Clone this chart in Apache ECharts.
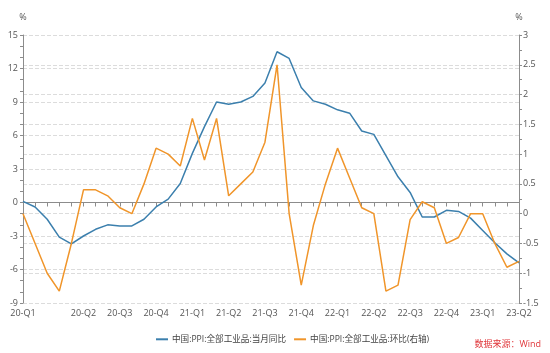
<!DOCTYPE html>
<html>
<head>
<meta charset="utf-8">
<script src="https://cdn.jsdelivr.net/npm/echarts@6/dist/echarts.min.js"></script>
<style>html,body{margin:0;padding:0;background:#fff;}#c{width:550px;height:353px;}</style>
</head>
<body>
<div id="c"></div>
<script>
// Monthly categories Jan 2020 - Jun 2023
var months = [
 "20-01","20-02","20-03","20-04","20-05","20-06","20-07","20-08","20-09","20-10","20-11","20-12",
 "21-01","21-02","21-03","21-04","21-05","21-06","21-07","21-08","21-09","21-10","21-11","21-12",
 "22-01","22-02","22-03","22-04","22-05","22-06","22-07","22-08","22-09","22-10","22-11","22-12",
 "23-01","23-02","23-03","23-04","23-05","23-06"
];
// Tick labels shown on the x axis, keyed by month
var tickLabels = {
 "20-01":"20-Q1","20-06":"20-Q2","20-09":"20-Q3","20-12":"20-Q4",
 "21-03":"21-Q1","21-06":"21-Q2","21-09":"21-Q3","21-12":"21-Q4",
 "22-03":"22-Q1","22-06":"22-Q2","22-09":"22-Q3","22-12":"22-Q4",
 "23-03":"23-Q1","23-06":"23-Q2"
};
var seriesNames = ["中国:PPI:全部工业品:当月同比", "中国:PPI:全部工业品:环比(右轴)"];
// PPI YoY (%), left axis
var ppiYoY = [
 0.1,-0.4,-1.5,-3.1,-3.7,-3.0,-2.4,-2.0,-2.1,-2.1,-1.5,-0.4,
 0.3,1.7,4.4,6.8,9.0,8.8,9.0,9.5,10.7,13.5,12.9,10.3,
 9.1,8.8,8.3,8.0,6.4,6.1,4.2,2.3,0.9,-1.3,-1.3,-0.7,
 -0.8,-1.4,-2.5,-3.6,-4.6,-5.4
];
// PPI MoM (%), right axis
var ppiMoM = [
 0.0,-0.5,-1.0,-1.3,-0.5,0.4,0.4,0.3,0.1,0.0,0.5,1.1,
 1.0,0.8,1.6,0.9,1.6,0.3,0.5,0.7,1.2,2.5,0.0,-1.2,
 -0.2,0.5,1.1,0.6,0.1,0.0,-1.3,-1.2,-0.1,0.2,0.1,-0.5,
 -0.4,0.0,0.0,-0.5,-0.9,-0.8
];
var leftTicks = {min:-9, max:15, interval:3};
var rightTicks = {min:-1.5, max:3, interval:0.5};
var unitLabel = "%";
var sourceText = "数据来源：Wind";

var FONT = "'Open Sans', 'Noto Sans CJK SC', sans-serif";
var axisColor = "#8c8c8c";
var labelColor = "#555";
var chart = echarts.init(document.getElementById('c'));
chart.setOption({
  animation: false,
  textStyle: {fontFamily: FONT},
  grid: {left: 23, right: 31, top: 35, bottom: 50, containLabel: false},
  legend: {
    left: 151, top: 330,
    icon: 'rect', itemWidth: 12, itemHeight: 2, itemGap: 8,
    textStyle: {fontSize: 8.6, color: '#444', fontFamily: FONT, padding: [0,0,0,-1]},
    data: seriesNames
  },
  xAxis: {
    type: 'category', data: months, boundaryGap: false,
    axisLine: {lineStyle: {color: axisColor}},
    axisTick: {show: true, interval: 0, length: 4, lineStyle: {color: axisColor}},
    axisLabel: {interval: 0, fontSize: 9, color: labelColor, margin: 6,
      formatter: function(v){ return tickLabels[v] || ''; }},
    splitLine: {show: false}
  },
  yAxis: [{
    type: 'value', min: leftTicks.min, max: leftTicks.max, interval: leftTicks.interval,
    name: unitLabel, nameLocation: 'end', nameGap: 13,
    nameTextStyle: {fontSize: 9, color: labelColor, align: 'center'},
    axisLine: {show: true, lineStyle: {color: axisColor}},
    axisTick: {show: true, length: 3, lineStyle: {color: axisColor}},
    minorTick: {show: true, splitNumber: 3, length: 3, lineStyle: {color: axisColor}},
    axisLabel: {fontSize: 9, color: labelColor, margin: 5},
    splitLine: {show: true, lineStyle: {color: '#dcdcdc', type: 'dashed', width: 1}}
  }, {
    type: 'value', position: 'right', min: rightTicks.min, max: rightTicks.max, interval: rightTicks.interval,
    name: unitLabel, nameLocation: 'end', nameGap: 13,
    nameTextStyle: {fontSize: 9, color: labelColor, align: 'center'},
    axisLine: {show: true, lineStyle: {color: axisColor}},
    axisTick: {show: true, length: 3, lineStyle: {color: axisColor}},
    minorTick: {show: true, splitNumber: 2, length: 3, lineStyle: {color: axisColor}},
    axisLabel: {fontSize: 9, color: labelColor, margin: 4},
    splitLine: {show: true, lineStyle: {color: '#dcdcdc', type: 'dashed', width: 1}}
  }],
  series: [{
    name: seriesNames[0], type: 'line', yAxisIndex: 0, data: ppiYoY,
    showSymbol: false, symbol: 'none',
    lineStyle: {color: '#3b7fad', width: 1.5}, itemStyle: {color: '#3b7fad'}
  }, {
    name: seriesNames[1], type: 'line', yAxisIndex: 1, data: ppiMoM,
    showSymbol: false, symbol: 'none',
    lineStyle: {color: '#f0952a', width: 1.5}, itemStyle: {color: '#f0952a'}
  }],
  graphic: [{
    type: 'text', right: 9, top: 340,
    style: {text: sourceText, fontSize: 9, fill: '#e0363a', fontFamily: FONT}
  }]
});
</script>
</body>
</html>
